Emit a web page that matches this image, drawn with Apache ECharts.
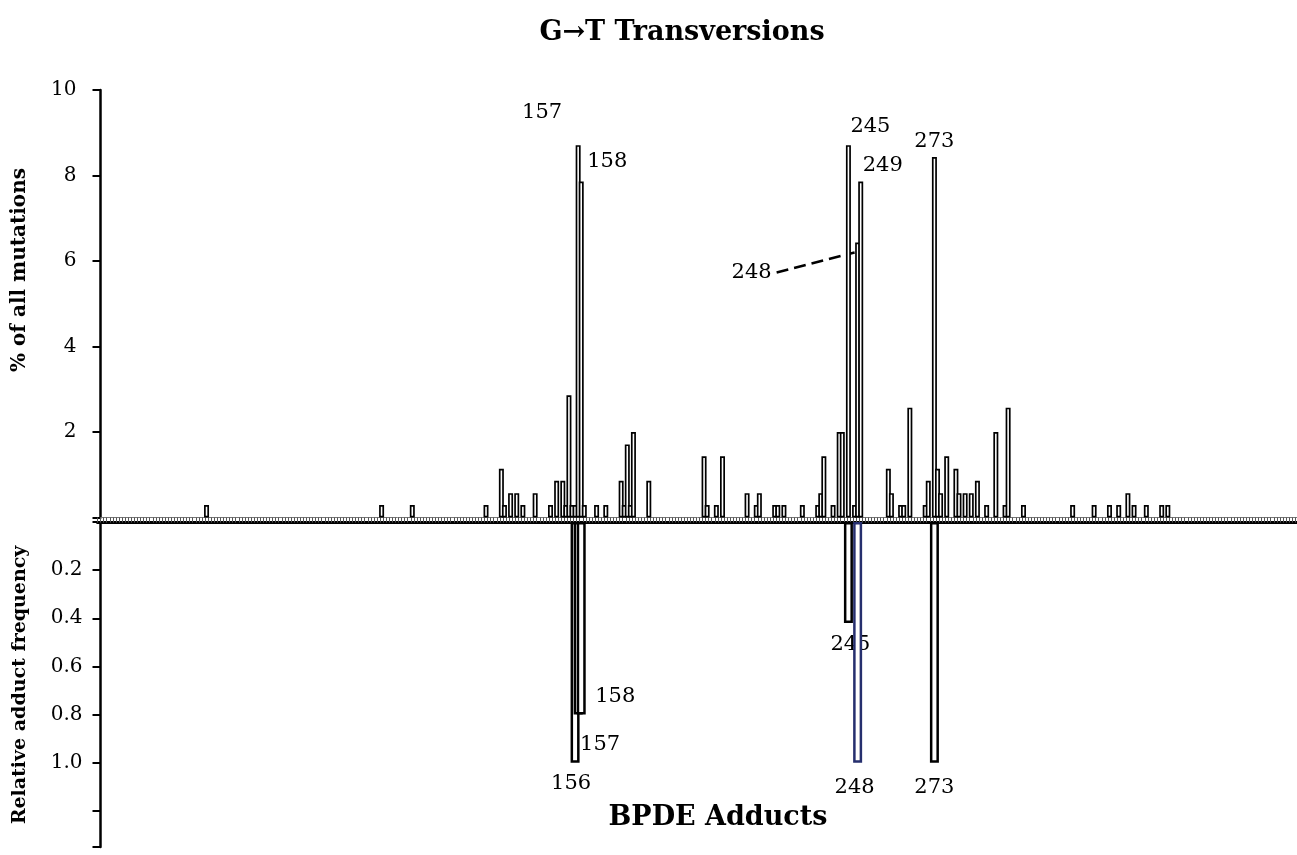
<!DOCTYPE html>
<html>
<head>
<meta charset="utf-8">
<script src="https://cdn.jsdelivr.net/npm/echarts@6/dist/echarts.min.js"></script>
<style>
  html, body { margin: 0; padding: 0; background: #fff; }
  #chart { width: 1297px; height: 855px; }
</style>
</head>
<body>
<div id="chart"></div>
<script>
// p53 codons along the x axis
const codonCount = 393;

// G->T transversions, % of all mutations (top panel)
const mutCodons = [36, 93, 103, 127, 132, 133, 135, 137, 139, 143, 148, 150, 152, 153, 154, 155, 156, 157, 158, 159,
  163, 166, 171, 172, 173, 174, 175, 180, 198, 199, 202, 204, 212, 215, 216, 221, 222, 224, 230, 235, 236, 237,
  240, 242, 243, 245, 247, 248, 249, 258, 259, 262, 263, 265, 270, 271, 273, 274, 275, 277, 280, 281, 283, 285,
  287, 290, 293, 296, 297, 302, 318, 325, 330, 333, 336, 338, 342, 347, 349];
const mutPercent = [0.29, 0.29, 0.29, 0.29, 1.14, 0.29, 0.57, 0.57, 0.29, 0.57, 0.29, 0.86, 0.86, 0.29, 2.86, 0.29, 0.29, 8.71, 7.86, 0.29,
  0.29, 0.29, 0.86, 0.29, 1.71, 0.29, 2.0, 0.86, 1.43, 0.29, 0.29, 1.43, 0.57, 0.29, 0.57, 0.29, 0.29, 0.29, 0.29, 0.29, 0.57, 1.43,
  0.29, 2.0, 2.0, 8.71, 0.29, 6.43, 7.86, 1.14, 0.57, 0.29, 0.29, 2.57, 0.29, 0.86, 8.43, 1.14, 0.57, 1.43, 1.14, 0.57, 0.57, 0.57,
  0.86, 0.29, 2.0, 0.29, 2.57, 0.29, 0.29, 0.29, 0.29, 0.29, 0.57, 0.29, 0.29, 0.29, 0.29];

// BPDE adducts, relative frequency (bottom panel)
const adductCodons = [156, 157, 158, 245, 248, 273];
const adductFreq = [1.0, 0.8, 0.8, 0.42, 1.0, 1.0];

// labelled codons
const topLabels = ['157', '158', '245', '248', '249', '273'];
const bottomLabels = ['156', '157', '158', '245', '248', '273'];

const serif = '"DejaVu Serif", "Liberation Serif", serif';

const categories = [];
for (let i = 1; i <= codonCount; i++) categories.push(String(i));

const topData = categories.map(() => null);
mutCodons.forEach((c, i) => { topData[c - 1] = mutPercent[i]; });

const bottomData = categories.map(() => null);
adductCodons.forEach((c, i) => {
  bottomData[c - 1] = c === 248
    ? { value: adductFreq[i], itemStyle: { borderColor: '#262f6e' } }
    : adductFreq[i];
});

const chart = echarts.init(document.getElementById('chart'));

const option = {
  animation: false,
  backgroundColor: '#fff',
  grid: [
    { left: 97.5, width: 1207, top: 90, height: 427.5, outerBoundsMode: 'none' },
    { left: 97.5, width: 1207, top: 522, bottom: 8, outerBoundsMode: 'none' }
  ],
  xAxis: [
    {
      type: 'category', gridIndex: 0, data: categories,
      axisLine: { show: true, lineStyle: { color: '#777', width: 1 } },
      axisTick: { show: true, interval: 0, length: 5, lineStyle: { color: '#555', width: 1 } },
      axisLabel: { show: false }
    },
    {
      type: 'category', gridIndex: 1, data: categories, position: 'top',
      axisLine: { show: true, lineStyle: { color: '#000', width: 3 } },
      axisTick: { show: false },
      axisLabel: { show: false }
    }
  ],
  yAxis: [
    {
      type: 'value', gridIndex: 0, min: 0, max: 10, interval: 2, offset: -3,
      axisLine: { show: true, lineStyle: { color: '#000', width: 2.5 } },
      axisTick: { show: true, length: 8, lineStyle: { color: '#000', width: 2 } },
      axisLabel: {
        margin: 24, color: '#000', fontFamily: serif, fontSize: 20,
        formatter: (v) => (v === 0 ? '' : String(v))
      },
      splitLine: { show: false }
    },
    {
      type: 'value', gridIndex: 1, min: 0, max: 1.35, interval: 0.2, inverse: true, offset: -3,
      axisLine: { show: true, lineStyle: { color: '#000', width: 2.5 } },
      axisTick: { show: true, length: 8, lineStyle: { color: '#000', width: 2 } },
      axisLabel: {
        margin: 18, color: '#000', fontFamily: serif, fontSize: 20,
        formatter: (v) => (v > 0.1 && v < 1.1 ? v.toFixed(1) : '')
      },
      splitLine: { show: false }
    }
  ],
  series: [
    {
      name: 'mutations', type: 'bar', xAxisIndex: 0, yAxisIndex: 0,
      data: topData, barWidth: 5,
      itemStyle: { color: '#fff', borderColor: '#000', borderWidth: 1.7 }
    },
    {
      name: 'adducts', type: 'bar', xAxisIndex: 1, yAxisIndex: 1,
      data: bottomData, barWidth: 9,
      itemStyle: { color: '#fff', borderColor: '#000', borderWidth: 2.5 }
    }
  ]
};

chart.setOption(option);

// text annotations placed relative to the bar ends
const topOffsets = { '157': [-36, -33], '158': [26, -20], '245': [22, -19], '248': [-106, 30], '249': [22, -16], '273': [0, -16] };
const bottomOffsets = { '156': [-4, 21], '157': [22, 30], '158': [34, -18], '245': [2, 21], '248': [-3, 25], '273': [0, 25] };

const txt = (x, y, text, font, extra) => Object.assign({
  type: 'text', x: x, y: y,
  style: { text: text, font: font, fill: '#000', textAlign: 'center', textVerticalAlign: 'middle', align: 'center', verticalAlign: 'middle' }
}, extra || {});

const graphics = [
  txt(682, 33, 'G\u2192T Transversions', 'bold 27px ' + serif),
  txt(20, 270, '% of all mutations', 'bold 20px ' + serif, { rotation: Math.PI / 2 }),
  txt(20, 685, 'Relative adduct frequency', 'bold 19px ' + serif, { rotation: Math.PI / 2 }),
  txt(718, 818, 'BPDE Adducts', 'bold 27px ' + serif)
];

topLabels.forEach((c) => {
  const v = topData[Number(c) - 1];
  const p = chart.convertToPixel({ seriesIndex: 0 }, [c, v]);
  const o = topOffsets[c];
  graphics.push(txt(p[0] + o[0], p[1] + o[1], c, '21px ' + serif));
});

// dashed leader from the "248" label to its bar
const p248 = chart.convertToPixel({ seriesIndex: 0 }, ['248', 6.2]);
graphics.push({
  type: 'line',
  shape: { x1: p248[0] - 81, y1: p248[1] + 20, x2: p248[0] - 3, y2: p248[1] },
  style: { stroke: '#000', lineWidth: 2.5, lineDash: [12, 6] }
});

bottomLabels.forEach((c) => {
  const item = bottomData[Number(c) - 1];
  const v = typeof item === 'object' ? item.value : item;
  const p = chart.convertToPixel({ seriesIndex: 1 }, [c, v]);
  const o = bottomOffsets[c];
  graphics.push(txt(p[0] + o[0], p[1] + o[1], c, '21px ' + serif));
});

chart.setOption({ graphic: graphics });
</script>
</body>
</html>
